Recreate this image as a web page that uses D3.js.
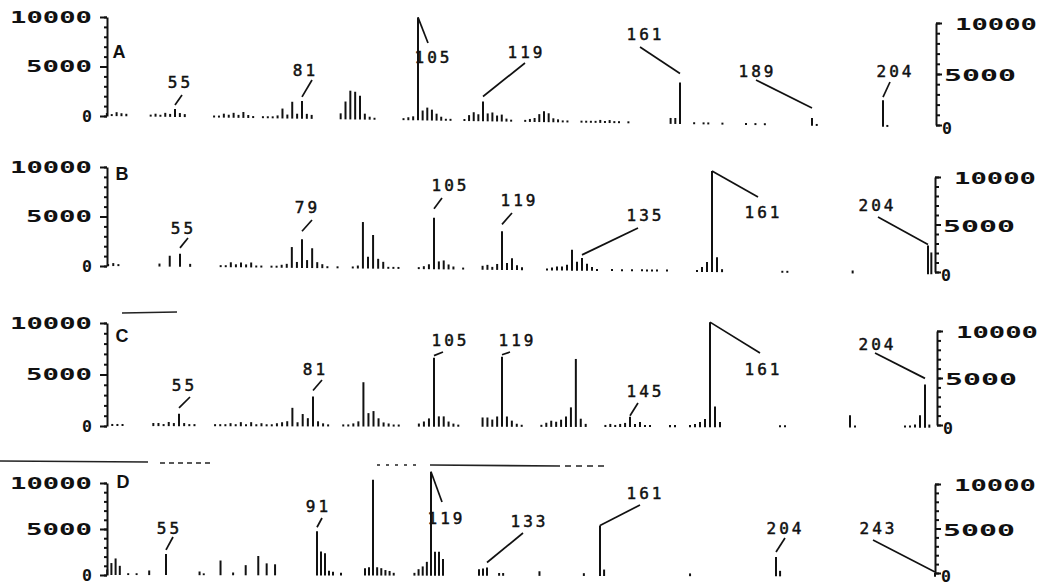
<!DOCTYPE html>
<html>
	<head>
		<meta charset="utf-8">
		<title>Mass spectra A-D</title>
		<script src="https://d3js.org/d3.v7.min.js"></script>
		<style type="text/css">
			body { margin: 0; background: #fff; }
			.axis path, .axis line { fill: none; stroke: #111; stroke-width: 2; }
			.axis text, .scale-label {
				font-family: "DejaVu Sans Mono", monospace;
				font-weight: bold;
				font-size: 16.5px;
				fill: #111;
			}
			.peak { stroke: #111; stroke-width: 2; }
			.lead { stroke: #111; stroke-width: 1.7; }
			.peak-label {
				font-family: "DejaVu Sans Mono", monospace;
				font-size: 16px;
				letter-spacing: 3px;
				fill: #111;
				stroke: #111;
				stroke-width: 0.5;
			}
			.panel-letter {
				font-family: "Liberation Sans", Arial, sans-serif;
				font-weight: bold;
				font-size: 18px;
				fill: #111;
			}
			.scan { stroke: #222; stroke-width: 1.6; }
		</style>
	</head>
	<body>
		<script type="text/javascript">

			//Spectrum A (m/z, abundance)
			var massA = [41,42,43,44,45, 50,51,52,53,54,55,56,57,
				63,64,65,66,67,68,69,70,71,73,74,
				75,76,77,78,79,80,81,82,83,
				89,90,91,92,93,94,95,96,
				102,103,104,105,106,107,108,109,110,111,112,
				115,116,117,118,119,120,121,122,123,124,125,
				128,129,130,131,132,133,134,135,136,137,
				140,141,142,143,144,145,146,147,148,150,
				159,160,161, 164,166,167,170,175,177,179,
				189,190, 204,205];
			var abundA = [300,200,400,300,250, 200,300,200,400,300,800,400,300,
				200,200,400,300,500,300,600,300,200,200,200,
				200,300,1000,400,1700,500,1800,500,400,
				600,1800,2900,2800,2400,600,300,200,
				200,300,400,10400,1000,1300,1100,700,400,200,200,
				200,600,900,700,2000,800,900,600,700,300,200,
				200,300,400,800,1100,900,400,300,200,200,
				200,200,200,200,300,200,300,200,200,200,
				600,600,4200, 200,200,200,200,200,200,200,
				800,200, 2700,200];
			var labelsA = [55, 81, 105, 119, 161, 189, 204];

			//Spectrum B
			var massB = [41,42,43, 51,53,55,57,
				63,64,65,66,67,68,69,70,71,
				73,74,75,76,77,78,79,80,81,82,83,84,86,
				89,90,91,92,93,94,95,96,97,98,
				102,103,104,105,106,107,108,109,111,
				115,116,117,118,119,120,121,122,123,
				128,129,130,131,132,133,134,135,136,137,138,
				141,143,145,147,148,149,150,152,
				158,159,160,161,162,163, 175,176, 189, 204,205];
			var abundB = [200,300,200, 300,1100,1300,300,
				200,200,500,300,500,300,500,200,200,
				200,200,300,400,2100,600,2900,800,2000,600,400,200,200,
				200,300,4700,1200,3400,1000,700,200,200,200,
				200,300,500,5200,800,900,500,300,200,
				400,500,300,600,3900,700,1200,500,300,
				200,300,400,400,600,2100,900,1300,700,400,200,
				200,200,200,200,200,200,200,200,
				200,500,1000,10200,1500,300, 200,200, 300, 2900,2200];
			var labelsB = [55, 79, 105, 119, 135, 161, 204];

			//Spectrum C
			var massC = [42,43,44, 50,51,52,53,54,55,56,57,58,
				62,63,64,65,66,67,68,69,70,71,72,73,74,
				75,76,77,78,79,80,81,82,83,84,
				87,88,89,90,91,92,93,94,95,96,97,98,
				102,103,104,105,106,107,108,109,110,
				115,116,117,118,119,120,121,122,123,
				127,128,129,130,131,132,133,134,135,136,
				140,141,142,143,144,145,146,147,148,149,
				153,154, 157,158,159,160,161,162,163,
				175,176, 189,190, 200,201,202,203,204,205];
			var abundC = [200,200,200, 300,300,200,400,300,1200,300,200,200,
				200,200,200,300,200,400,200,400,200,300,200,200,300,
				400,500,1800,400,1200,800,2900,500,300,200,
				200,200,300,500,4300,1300,1500,800,400,300,200,200,
				300,500,800,6700,1000,1000,500,300,200,
				900,900,700,1000,6800,1000,600,300,200,
				200,400,600,500,700,1000,1900,6600,800,300,
				200,300,200,300,400,1000,300,500,200,200,
				200,200, 200,300,500,800,10200,2000,500,
				200,200, 1200,200, 200,200,300,1200,4200,300];
			var labelsC = [55, 81, 105, 119, 145, 161, 204];

			//Spectrum D
			var massD = [41,42,43,44,46,48, 51, 55,
				63,64,68,71,74,77,79,81,
				91,92,93,94,95,97,
				103,104,105,106,107,108,109,110,
				115,116,117,118,119,120,121,122,
				131,132,133,136,137, 146, 157, 161,162, 183, 204,205, 243];
			var abundD = [600,1300,1800,1000,200,200, 500, 2300,
				400,200,1600,300,1100,2100,1300,1200,
				4800,2600,2400,500,400,300,
				800,900,10400,900,800,600,500,300,
				300,700,1000,1500,11300,2600,2600,1800,
				700,800,900,300,300, 500, 300, 5500,700, 300, 2100,600, 400];
			var labelsD = [55, 91, 119, 133, 161, 204, 243];

			//Scale ticks
			var majorTicks = [0, 5000, 10000];
			var minorTicks = d3.range(0, 10001, 1000);

			//Layout: each plotted sheet is a little skewed, x calibration per panel
			var axisX = 107;
			var panels = [
				{ letter: 'A', mass: massA, abund: abundA, labels: labelsA,
					calMass: [40, 55, 81, 105, 119, 161, 189, 204, 216],
					calPx: [102, 175, 302, 418, 483, 680, 812, 883, 935],
					left: [116, 17], right: [125, 23], rightX: 936, skew: 0.014, letterPos: [119, 52],
					notes: [[179, 82, 182, 95, 4], [304, 70, 312, 80, 4], [432, 57, 428, 43, 0],
						[525, 52, 525, 63, 5], [644, 34, 640, 47, 9], [756, 71, 756, 80, 10],
						[894, 71, 890, 82, 3]] },
				{ letter: 'B', mass: massB, abund: abundB, labels: labelsB,
					calMass: [40, 55, 79, 105, 119, 135, 161, 204, 207],
					calPx: [103, 180, 302, 434, 502, 582, 712, 928, 938],
					left: [266, 167], right: [272, 177], rightX: 935, skew: 0.010, letterPos: [122, 174],
					notes: [[182, 228, 188, 238, 6], [306, 207, 312, 220, 8], [449, 185, 442, 198, 9],
						[518, 200, 512, 213, 7], [644, 215, 638, 228, 3], [762, 212, 758, 197, 0],
						[876, 205, 878, 217, 1]] },
				{ letter: 'C', mass: massC, abund: abundC, labels: labelsC,
					calMass: [40, 55, 81, 105, 119, 145, 161, 204, 207],
					calPx: [102, 179, 313, 434, 502, 630, 710, 925, 938],
					left: [426, 323], right: [425, 331], rightX: 937, skew: 0.002, letterPos: [122, 336],
					notes: [[183, 385, 190, 397, 6], [314, 369, 322, 380, 6], [449, 340, 443, 352, 2],
						[516, 340, 510, 352, 2], [644, 391, 638, 403, 1], [762, 369, 760, 353, 0],
						[876, 344, 875, 353, 6]] },
				{ letter: 'D', mass: massD, abund: abundD, labels: labelsD,
					calMass: [40, 55, 91, 105, 119, 133, 161, 204, 243],
					calPx: [103, 166, 317, 373, 431, 487, 600, 776, 935],
					left: [575, 483], right: [573, 484], rightX: 935, skew: 0.002, letterPos: [123, 482],
					notes: [[168, 528, 173, 537, 4], [317, 506, 322, 518, 4], [445, 518, 442, 502, 0],
						[528, 521, 523, 533, 5], [644, 493, 640, 505, 0], [784, 528, 785, 538, 5],
						[877, 528, 873, 540, 1]] }
			];

			//Stray lines of the scanned sheet
			var scanMarks = [[122, 313, 177, 312, null], [0, 461, 148, 462, null], [160, 463, 213, 463, '5,4'],
				[377, 465, 420, 465, '3,6'], [430, 465, 560, 466, null], [565, 466, 608, 466, '6,5']];

			var svg = d3.select('body')
				.append('svg')
				.attr('width', 1047)
				.attr('height', 588);

			panels.forEach(function(p) {
				var g = svg.append('g');

				var xScale = d3.scaleLinear().domain(p.calMass).range(p.calPx);
				var yScale = d3.scaleLinear().domain([0, 10000]).range(p.left);
				var yRight = d3.scaleLinear().domain([0, 10000]).range(p.right);
				var lift = function(px) { return (px - axisX) * p.skew; };

				//Peaks
				g.selectAll('line.peak')
					.data(d3.zip(p.mass, p.abund))
					.enter()
					.append('line')
					.attr('class', 'peak')
					.attr('x1', function(d) { return xScale(d[0]); })
					.attr('x2', function(d) { return xScale(d[0]); })
					.attr('y1', function(d) { return yScale(0) + lift(xScale(d[0])); })
					.attr('y2', function(d) { return yScale(d[1]) + lift(xScale(d[0])); });

				//Left axis (minor ticks, then labelled ticks)
				g.append('g')
					.attr('class', 'axis')
					.attr('transform', 'translate(' + axisX + ',0)')
					.call(d3.axisLeft(yScale).tickValues(minorTicks).tickSize(3).tickSizeOuter(0).tickFormat(''));
				var leftAxis = g.append('g')
					.attr('class', 'axis')
					.attr('transform', 'translate(' + axisX + ',0)')
					.call(d3.axisLeft(yScale).tickValues(majorTicks).tickSize(7).tickSizeOuter(0).tickPadding(8).tickFormat(d3.format('d')));
				leftAxis.select('.domain').remove();
				leftAxis.selectAll('text')
					.attr('textLength', function(d) { return d === 10000 ? 82 : (d === 5000 ? 66 : null); })
					.attr('lengthAdjust', 'spacingAndGlyphs');

				//Right axis
				g.append('g')
					.attr('class', 'axis')
					.attr('transform', 'translate(' + p.rightX + ',0)')
					.call(d3.axisRight(yRight).tickValues(minorTicks).tickSize(4).tickSizeOuter(0).tickFormat(''));
				var rightAxis = g.append('g')
					.attr('class', 'axis')
					.attr('transform', 'translate(' + p.rightX + ',0)')
					.call(d3.axisRight(yRight).tickValues(majorTicks).tickSize(6).tickSizeOuter(0).tickPadding(2).tickFormat(d3.format('d')));
				rightAxis.select('.domain').remove();
				rightAxis.selectAll('text')
					.attr('x', function(d) { return d === 10000 ? 19 : (d === 0 ? 6 : 8); })
					.attr('dy', function(d) { return d === 0 ? '0.5em' : '0.42em'; })
					.attr('textLength', function(d) { return d === 10000 ? 82 : (d === 5000 ? 72 : null); })
					.attr('lengthAdjust', 'spacingAndGlyphs');

				//Panel letter
				g.append('text')
					.attr('class', 'panel-letter')
					.attr('x', p.letterPos[0])
					.attr('y', p.letterPos[1])
					.attr('text-anchor', 'middle')
					.attr('dy', '0.35em')
					.text(p.letter);

				//Peak labels and their leader lines
				p.labels.forEach(function(m, i) {
					var n = p.notes[i];
					var px = xScale(m);
					var py = yScale(p.abund[p.mass.indexOf(m)]) + lift(px);
					g.append('line')
						.attr('class', 'lead')
						.attr('x1', n[2])
						.attr('y1', n[3])
						.attr('x2', px)
						.attr('y2', py - n[4]);
					g.append('text')
						.attr('class', 'peak-label')
						.attr('x', n[0] + 1.5)
						.attr('y', n[1])
						.attr('dy', '0.36em')
						.attr('text-anchor', 'middle')
						.text(m);
				});
			});

			//Scan marks
			svg.selectAll('line.scan')
				.data(scanMarks)
				.enter()
				.append('line')
				.attr('class', 'scan')
				.attr('x1', function(d) { return d[0]; })
				.attr('y1', function(d) { return d[1]; })
				.attr('x2', function(d) { return d[2]; })
				.attr('y2', function(d) { return d[3]; })
				.attr('stroke-dasharray', function(d) { return d[4]; });

		</script>
	</body>
</html>
